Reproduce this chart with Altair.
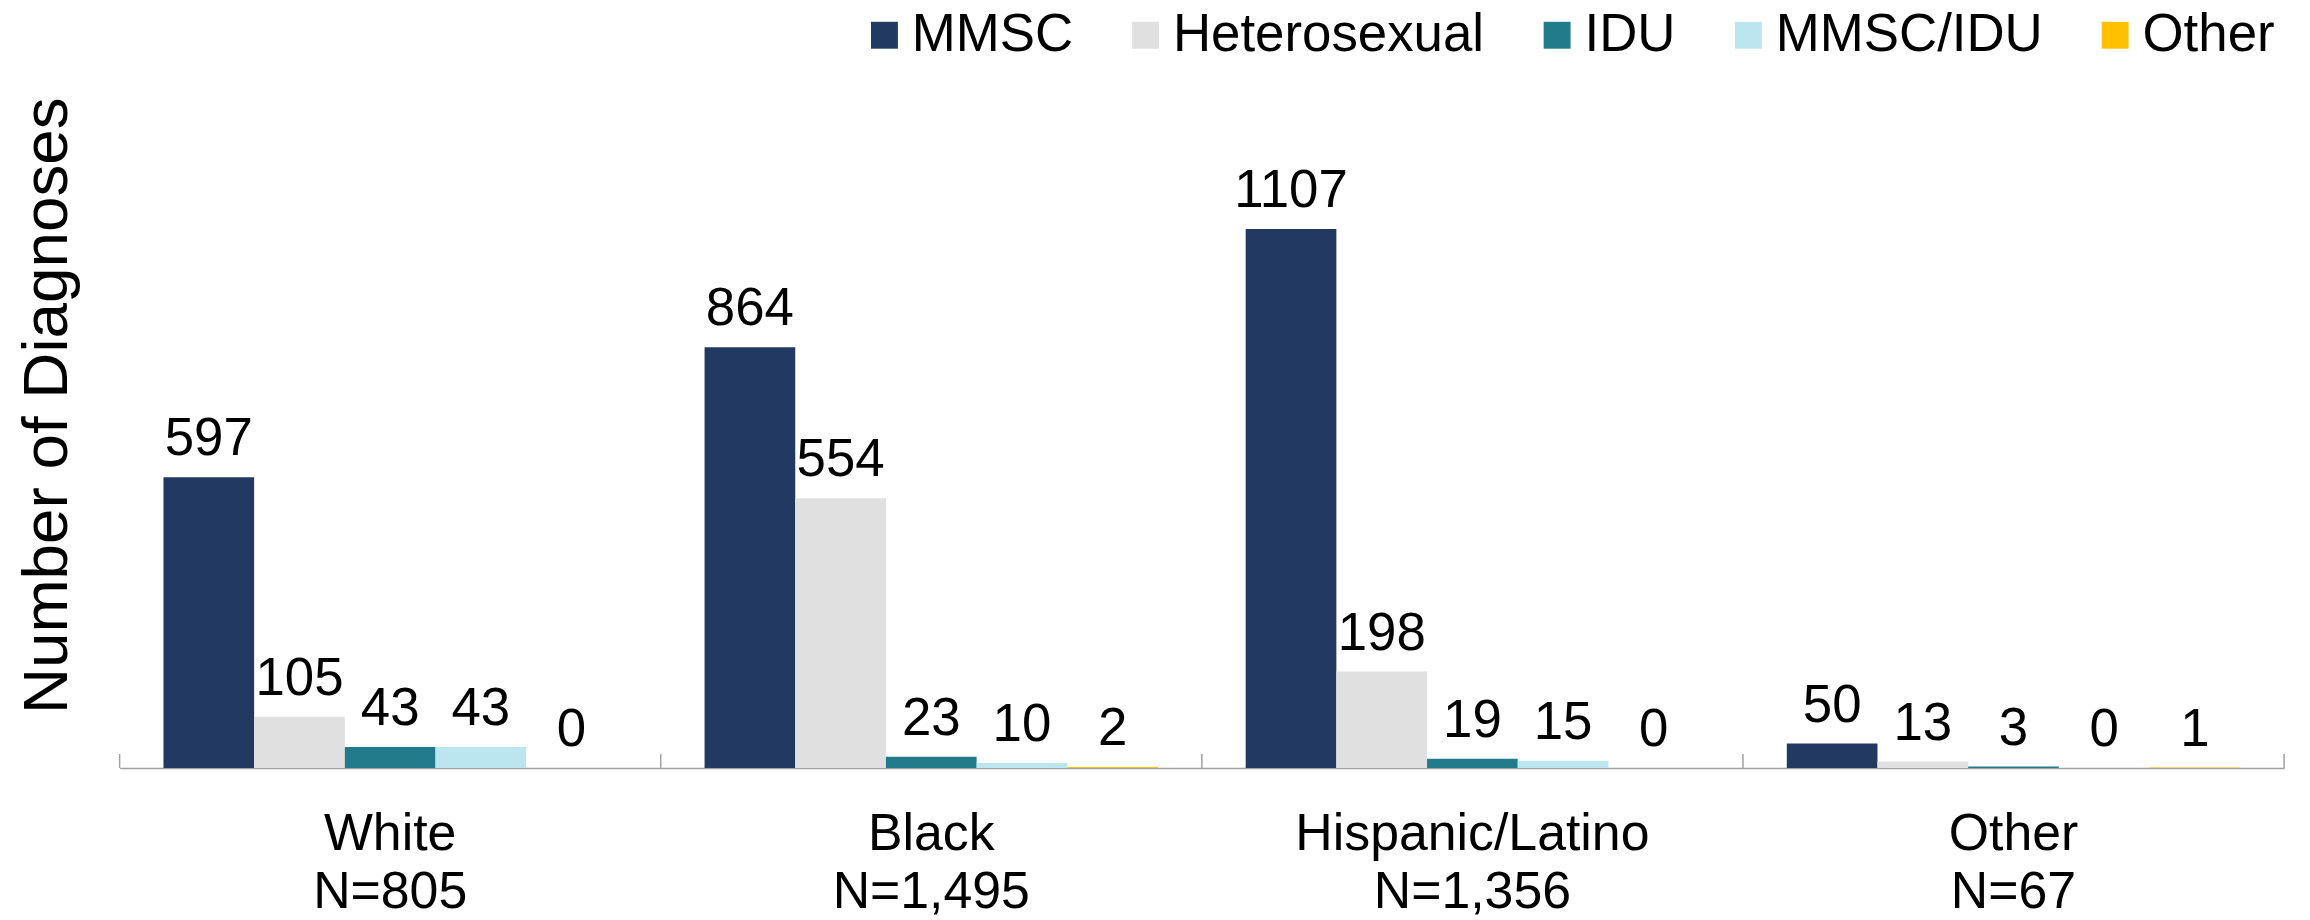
import altair as alt
import pandas as pd

groups = ["White", "Black", "Hispanic/Latino", "Other"]
group_n = ["N=805", "N=1,495", "N=1,356", "N=67"]
types = ["MMSC", "Heterosexual", "IDU", "MMSC/IDU", "Other"]
colors = ["#223962", "#E0E0E0", "#227B8B", "#BBE5EF", "#FFC000"]

mmsc = [597, 864, 1107, 50]
hetero = [105, 554, 198, 13]
idu = [43, 23, 19, 3]
mmsc_idu = [43, 10, 15, 0]
other = [0, 2, 0, 1]

series = [mmsc, hetero, idu, mmsc_idu, other]
glabels = [f"{g}|{n}" for g, n in zip(groups, group_n)]

rows = []
for t, vals in zip(types, series):
    for gl, v in zip(glabels, vals):
        rows.append({"Group": gl, "Type": t, "Value": v})
df = pd.DataFrame(rows)
ticks_df = pd.DataFrame({"Group": glabels, "last": [i == len(glabels) - 1 for i in range(len(glabels))]})

W, H = 2172, 684
FONT = "Liberation Sans"

x_enc = alt.X("Group:N", sort=glabels,
              scale=alt.Scale(paddingInner=0, paddingOuter=0),
              axis=alt.Axis(title=None, labelExpr="split(datum.label, '|')",
                            labelAngle=0, labelFontSize=52, labelFont=FONT,
                            labelColor="#000000", labelLineHeight=58,
                            labelPadding=41, labelBaseline="top", labelLimit=0,
                            ticks=False, tickSize=0,
                            domainColor="#A0A0A0", domainWidth=1.5))
xo_enc = alt.XOffset("Type:N", sort=types,
                     scale=alt.Scale(paddingInner=0, paddingOuter=0.4835))
y_scale = alt.Scale(domain=[0, 1400], nice=False)

bars = alt.Chart(df).mark_bar().encode(
    x=x_enc,
    xOffset=xo_enc,
    y=alt.Y("Value:Q", scale=y_scale,
            axis=alt.Axis(title="Number of Diagnoses", labels=False, ticks=False,
                          domain=False, grid=False, titleFontSize=64,
                          titleFont=FONT, titleFontWeight="normal",
                          titleColor="#000000", titleAngle=-90,
                          titleBaseline="alphabetic", titleAlign="center",
                          titleLimit=2000, titleX=-53, titleY=320)),
    color=alt.Color("Type:N", sort=types,
                    scale=alt.Scale(domain=types, range=colors),
                    legend=alt.Legend(title=None, orient="none", direction="horizontal",
                                      legendX=741, legendY=-78,
                                      symbolType="square", symbolSize=729,
                                      symbolStrokeWidth=0, symbolOpacity=1,
                                      labelFontSize=53, labelFont=FONT,
                                      labelColor="#000000", labelOffset=1,
                                      labelLimit=0,
                                      columnPadding=46, padding=0)),
)

labels = alt.Chart(df).mark_text(
    fontSize=53, font=FONT, color="#000000", baseline="alphabetic", dy=-22
).encode(
    x=alt.X("Group:N", sort=glabels),
    xOffset=alt.XOffset("Type:N", sort=types),
    y=alt.Y("Value:Q", scale=y_scale),
    text=alt.Text("Value:Q"),
)

ticks_start = alt.Chart(ticks_df).mark_rule(color="#A0A0A0", strokeWidth=1.5).encode(
    x=alt.X("Group:N", sort=glabels, bandPosition=0),
    y=alt.value(H),
    y2=alt.value(H - 14),
)
ticks_end = alt.Chart(ticks_df).transform_filter("datum.last").mark_rule(
    color="#A0A0A0", strokeWidth=1.5).encode(
    x=alt.X("Group:N", sort=glabels, bandPosition=1),
    y=alt.value(H),
    y2=alt.value(H - 14),
)

chart = alt.layer(bars, labels, ticks_start, ticks_end).properties(
    width=W, height=H,
    autosize=alt.AutoSizeParams(type="none"),
    padding={"left": 112, "top": 77, "right": 18, "bottom": 151},
).configure(
    background="#FFFFFF",
    view=alt.ViewConfig(strokeWidth=0, stroke="transparent"),
)

chart.save("out.html", embed_options={"renderer": "svg", "actions": False})
